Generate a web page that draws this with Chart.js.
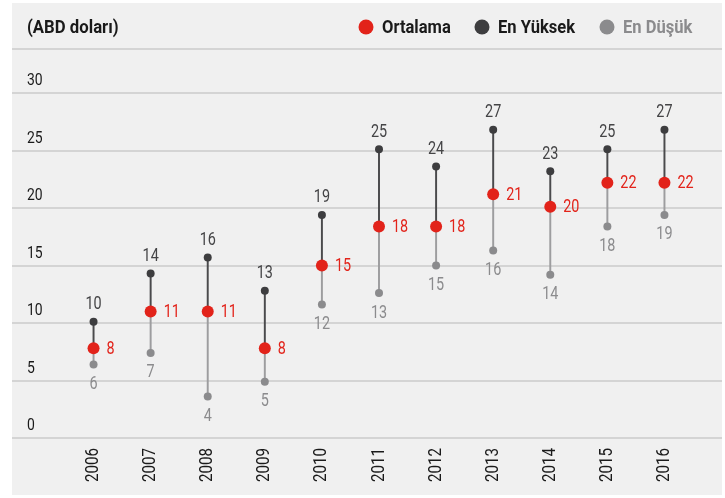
<!DOCTYPE html>
<html>
<head>
<meta charset="utf-8">
<script src="https://cdn.jsdelivr.net/npm/chart.js@4/dist/chart.umd.min.js"></script>
<style>
html,body{margin:0;padding:0;background:#fff;}
#wrap{width:725px;height:498px;}
</style>
</head>
<body>
<div id="wrap"><canvas id="c" width="725" height="498"></canvas></div>
<script>
const years = ['2006','2007','2008','2009','2010','2011','2012','2013','2014','2015','2016'];
const meanValues = [7.8, 11.0, 11.0, 7.8, 15.0, 18.4, 18.4, 21.2, 20.1, 22.2, 22.2];
const highValues = [10.1, 14.3, 15.7, 12.8, 19.4, 25.1, 23.6, 26.8, 23.2, 25.1, 26.8];
const lowValues  = [6.4, 7.4, 3.6, 4.9, 11.6, 12.6, 15.0, 16.3, 14.2, 18.4, 19.4];
const meanLabels = [8, 11, 11, 8, 15, 18, 18, 21, 20, 22, 22];
const highLabels = [10, 14, 16, 13, 19, 25, 24, 27, 23, 25, 27];
const lowLabels  = [6, 7, 4, 5, 12, 13, 15, 16, 14, 18, 19];
const yTicks = [0, 5, 10, 15, 20, 25, 30];
const unitTitle = '(ABD doları)';
const seriesNames = ['Ortalama', 'En Yüksek', 'En Düşük'];

const FONT = "Roboto,'Liberation Sans',sans-serif";
const RED = '#e2231a', DARK = '#3d3d3f', GREY = '#8b8b8d';
const LEFT = 12, RIGHT = 722;

function txt(ctx, s, x, y, align, sx, rot) {
  ctx.save();
  ctx.translate(x, y);
  if (rot) ctx.rotate(rot);
  ctx.scale(sx, 1);
  ctx.textAlign = align;
  ctx.textBaseline = 'middle';
  ctx.fillText(s, 0, 0);
  ctx.restore();
}

const decor = {
  id: 'decor',
  beforeDraw(chart) {
    const ctx = chart.ctx;
    ctx.save();
    ctx.fillStyle = '#ffffff';
    ctx.fillRect(0, 0, chart.width, chart.height);
    ctx.fillStyle = '#f0f0f0';
    ctx.fillRect(LEFT, 3, RIGHT - LEFT, 492);
    // header
    ctx.fillStyle = '#1a1a1a';
    ctx.font = "bold 18px " + FONT;
    txt(ctx, unitTitle, 27, 28, 'left', 0.93);
    // legend
    const legendColors = [RED, DARK, GREY];
    const textColors = ['#1a1a1a', '#1a1a1a', GREY];
    const dotX = [366, 482, 607];
    seriesNames.forEach((n, i) => {
      ctx.beginPath();
      ctx.fillStyle = legendColors[i];
      ctx.arc(dotX[i], 27, 7.5, 0, Math.PI * 2);
      ctx.fill();
      ctx.fillStyle = textColors[i];
      txt(ctx, n, dotX[i] + 16, 28, 'left', 0.92);
    });
    // lines
    ctx.strokeStyle = '#cbcbcb';
    ctx.lineWidth = 1.6;
    ctx.beginPath();
    ctx.moveTo(LEFT, 49); ctx.lineTo(RIGHT, 49);
    ctx.stroke();
    const ys = chart.scales.y;
    ctx.font = "17px " + FONT;
    yTicks.forEach(v => {
      const y = Math.round(ys.getPixelForValue(v));
      ctx.beginPath();
      ctx.moveTo(LEFT, y); ctx.lineTo(RIGHT, y);
      ctx.stroke();
      ctx.fillStyle = '#1a1a1a';
      txt(ctx, String(v), 27, y - 12, 'left', 0.82);
    });
    // year labels along the x axis
    const xs = chart.scales.x;
    ctx.font = "18px " + FONT;
    ctx.fillStyle = '#1a1a1a';
    years.forEach((yr, i) => {
      txt(ctx, yr, xs.getPixelForTick(i), 448, 'right', 0.84, -Math.PI / 2);
    });
    ctx.restore();
  },
  afterDatasetsDraw(chart) {
    const ctx = chart.ctx;
    ctx.save();
    ctx.font = "18px " + FONT;
    const mMeta = chart.getDatasetMeta(2), hMeta = chart.getDatasetMeta(3), lMeta = chart.getDatasetMeta(4);
    years.forEach((_, i) => {
      const m = mMeta.data[i], h = hMeta.data[i], l = lMeta.data[i];
      ctx.fillStyle = RED;
      txt(ctx, String(meanLabels[i]), m.x + 13, m.y + 1, 'left', 0.8);
      ctx.fillStyle = '#444446';
      txt(ctx, String(highLabels[i]), h.x, h.y - 17, 'center', 0.8);
      ctx.fillStyle = GREY;
      txt(ctx, String(lowLabels[i]), l.x, l.y + 20, 'center', 0.8);
    });
    ctx.restore();
  }
};

new Chart(document.getElementById('c'), {
  data: {
    labels: years,
    datasets: [
      { type: 'bar', data: years.map((_, i) => [meanValues[i], highValues[i]]), backgroundColor: '#4a4a4c', barThickness: 1.3, grouped: false, order: 5 },
      { type: 'bar', data: years.map((_, i) => [lowValues[i], meanValues[i]]), backgroundColor: '#9d9d9f', barThickness: 1.3, grouped: false, order: 5 },
      { type: 'line', label: seriesNames[0], data: meanValues, showLine: false, pointRadius: 6, pointBackgroundColor: RED, pointBorderWidth: 0, order: 1 },
      { type: 'line', label: seriesNames[1], data: highValues, showLine: false, pointRadius: 4, pointBackgroundColor: DARK, pointBorderWidth: 0, order: 2 },
      { type: 'line', label: seriesNames[2], data: lowValues, showLine: false, pointRadius: 4, pointBackgroundColor: GREY, pointBorderWidth: 0, order: 2 }
    ]
  },
  options: {
    responsive: false,
    animation: false,
    layout: { padding: { top: 93, left: 65, right: 32, bottom: 0 } },
    plugins: { legend: { display: false }, tooltip: { enabled: false } },
    scales: {
      y: { display: false, min: 0, max: 30 },
      x: {
        offset: true,
        grid: { display: false },
        border: { display: false },
        ticks: { display: false },
        afterFit(s) { s.height = 60; }
      }
    }
  },
  plugins: [decor]
});
</script>
</body>
</html>
